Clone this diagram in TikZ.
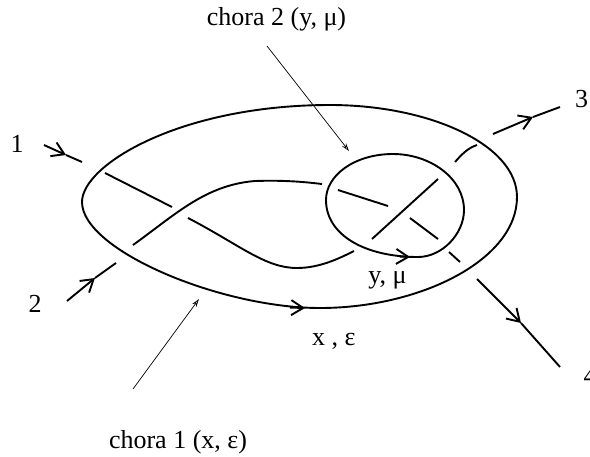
\documentclass[tikz,border=0pt]{standalone}
\usepackage{fontspec}
\setmainfont{Liberation Serif}
\usetikzlibrary{arrows.meta}
\begin{document}
\begin{tikzpicture}[x=1pt,y=-1pt,
  knot/.style={line width=1.9pt, line cap=butt},
  tipsty/.style={knot,-{Straight Barb[length=12pt,width=15pt]}},
  pointer/.style={line width=0.7pt,-{Stealth[open,length=8pt,width=5pt]}},
  lab/.style={inner sep=0pt, anchor=base, font=\fontsize{26}{30}\selectfont}]
\useasboundingbox (0,0) rectangle (590,456);

% labels
\node[lab] (n1) at (17,152) {1};
\node[lab] (n2) at (35,312) {2};
\node[lab] (n3) at (581.5,107) {3};
\node[lab] (n4) at (590,384) {4};
\node[lab] (ch2) at (276.5,25) {chora 2 (y, μ)};
\node[lab] (ch1) at (178,448) {chora 1 (x, ε)};
\node[lab] (ymu) at (387.5,283) {y, μ};
\node[lab,anchor=base west] (xeps) at (312,345) {x , ε};

% outer region (chora 1)
\draw[knot] (82,202) .. controls (82,250) and (220,308) .. (320,308)
  .. controls (420,308) and (517,260) .. (517,197)
  .. controls (517,145) and (430,105) .. (330,105)
  .. controls (180,105) and (82,165) .. (82,202) -- cycle;
\draw[tipsty] (290,307.6) -- (305,308);

% inner region (chora 2)
\draw[knot] (326,200) .. controls (326,235) and (365,257) .. (418,257)
  .. controls (442,257) and (464,234) .. (464,210)
  .. controls (464,178) and (430,154) .. (393,154)
  .. controls (355,154) and (326,175) .. (326,200) -- cycle;
\draw[tipsty] (400,256.6) -- (410,257);

% strand from 1 to 3
\coordinate (a1s) at (44,145);
\coordinate (a1t) at (66,155);
\coordinate (a1e) at (82,162);
\draw[tipsty] (a1s) -- (a1t);
\draw[knot] (a1t) -- (a1e);
\draw[knot] (105,173) -- (172,207);
\draw[knot] (188,218) .. controls (240,245) and (265,268) .. (297,268)
  .. controls (320,268) and (340,258) .. (354,251);
\draw[knot] (372,239) -- (438,179);
\draw[knot] (455,162) .. controls (462,154) and (468,148) .. (477,145);
\coordinate (a3s) at (493,134);
\coordinate (a3t) at (533,117);
\coordinate (a3e) at (560,107);
\draw[tipsty] (a3s) -- (a3t);
\draw[knot] (a3t) -- (a3e);

% strand from 2 to 4
\coordinate (b2s) at (67,301);
\coordinate (b2t) at (95,278);
\coordinate (b2e) at (116,263);
\draw[tipsty] (b2s) -- (b2t);
\draw[knot] (b2t) -- (b2e);
\draw[knot] (133,245) .. controls (175,215) and (205,185) .. (255,181)
  .. controls (285,180) and (305,182) .. (322,184);
\draw[knot] (338,190) -- (388,206);
\draw[knot] (410,218) -- (438,239);
\draw[knot] (449,252) -- (460,262);
\coordinate (b4s) at (477,279);
\coordinate (b4t) at (521,323);
\coordinate (b4e) at (560,367);
\draw[tipsty] (b4s) -- (b4t);
\draw[knot] (b4t) -- (b4e);

% pointers
\coordinate (q2) at (349,151);
\coordinate (q1) at (199,299);
\draw[pointer] (267,46) -- (q2);
\draw[pointer] (133,389) -- (q1);
\end{tikzpicture}
\end{document}
